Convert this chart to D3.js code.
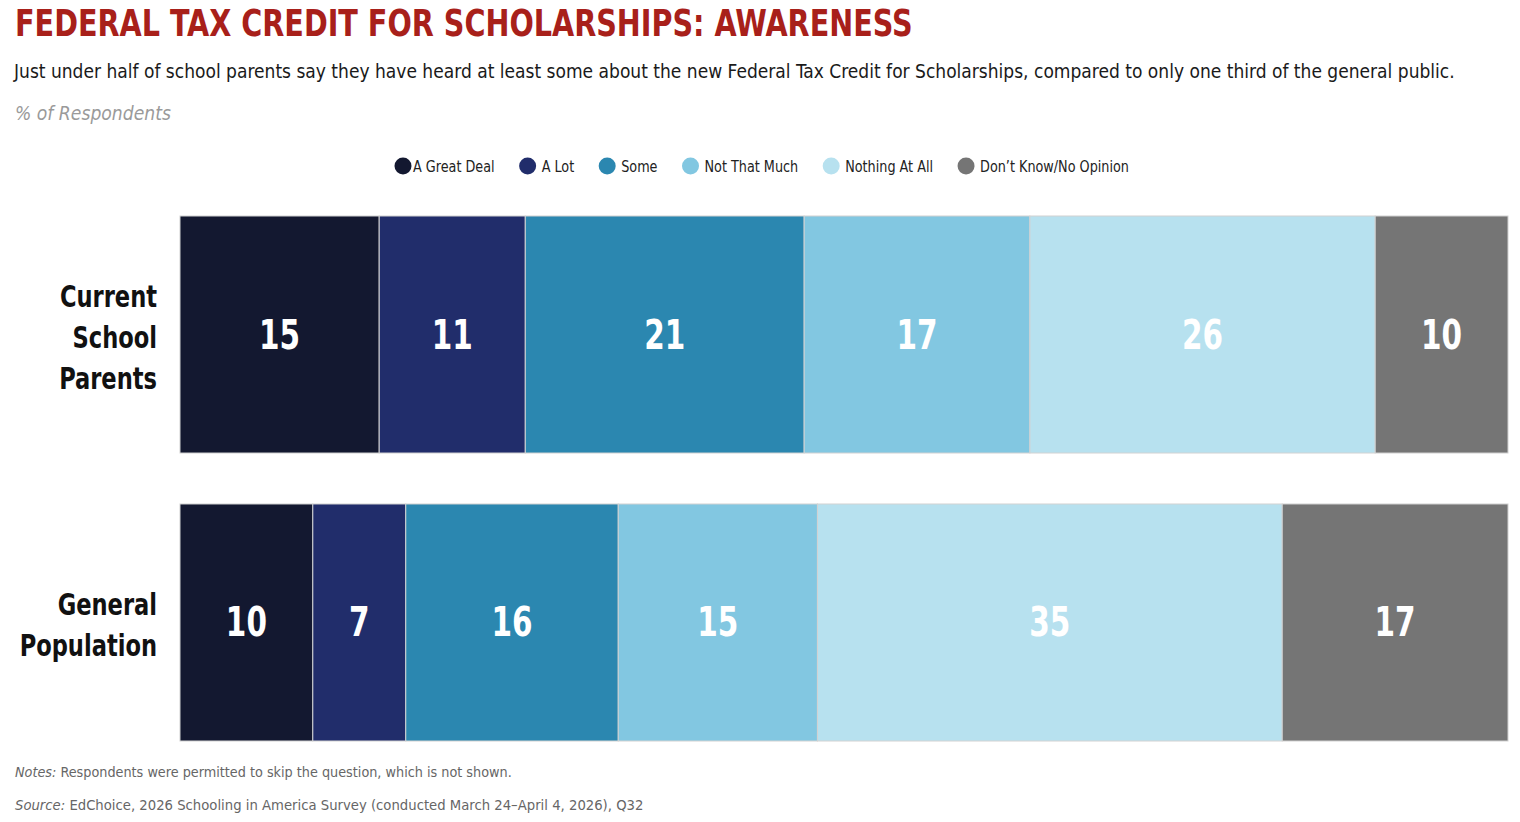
<!DOCTYPE html>
<html>

<head>
  <title>Federal Tax Credit Awareness</title>
  <script src="https://cdn.jsdelivr.net/npm/d3@7"></script>
  <style>
    body { margin: 0; background: #fff; }
    text { font-family: "Liberation Sans Narrow", "DejaVu Sans Condensed", "Roboto", sans-serif; }
  </style>
</head>

<body>
  <svg width="1520" height="822" id="mainsvg"></svg>
  <script>
    const groups = ['Current School Parents', 'General Population'];
    const groupLines = [['Current', 'School', 'Parents'], ['General', 'Population']];
    const categories = ['A Great Deal', 'A Lot', 'Some', 'Not That Much', 'Nothing At All', 'Don\u2019t Know/No Opinion'];
    const parentsValues = [15, 11, 21, 17, 26, 10];
    const publicValues = [10, 7, 16, 15, 35, 17];
    const colors = ['#131830', '#212d6b', '#2b87b0', '#82c7e1', '#b7e1ef', '#757575'];

    const svg = d3.select('#mainsvg');

    // squeeze a text horizontally so it takes the given width
    const fitText = function (sel, px, py, w) {
      const natural = sel.node().getComputedTextLength();
      const k = Math.min(1.05, w / natural);
      sel.attr('transform', `translate(${px},${py}) scale(${k},1)`);
    };

    // titles
    const title = svg.append('text')
      .attr('font-size', 38).attr('font-weight', 'bold')
      .attr('fill', '#a8201a')
      .text('FEDERAL TAX CREDIT FOR SCHOLARSHIPS: AWARENESS');
    fitText(title, 15, 36, 898);

    const subtitle = svg.append('text')
      .attr('font-size', 20).attr('fill', '#1a1a1a')
      .text('Just under half of school parents say they have heard at least some about the new Federal Tax Credit for Scholarships, compared to only one third of the general public.');
    fitText(subtitle, 14, 78, 1442);

    const unit = svg.append('text')
      .attr('font-size', 20).attr('font-style', 'italic').attr('fill', '#9a9a9a')
      .text('% of Respondents');
    fitText(unit, 15, 120, 156);

    // legend
    const legend = svg.append('g');
    let lx = 0;
    categories.forEach((c, i) => {
      const item = legend.append('g').attr('transform', `translate(${lx},0)`);
      item.append('circle').attr('cx', 0).attr('cy', 0).attr('r', 8.5).attr('fill', colors[i]);
      const off = i === 0 ? 10 : 14;
      const t = item.append('text')
        .attr('transform', `translate(${off},5.5) scale(0.95,1)`)
        .attr('font-size', 15).attr('fill', '#222')
        .text(c);
      lx += off + t.node().getComputedTextLength() * 0.95 + 33;
    });
    legend.attr('transform', `translate(403,166)`);

    // bars
    const x = d3.scaleLinear().domain([0, 100]).range([180, 1508]);
    const y = d3.scaleBand().domain(groups).range([216, 741]).paddingInner(0.177);

    const rows = [parentsValues, publicValues];
    rows.forEach((vals, gi) => {
      const stacked = [];
      let acc = 0;
      vals.forEach((v, i) => { stacked.push({ start: acc, end: acc + v, v: v, i: i }); acc += v; });
      const g = svg.append('g');
      g.selectAll('rect').data(stacked).join('rect')
        .attr('x', d => x(d.start))
        .attr('y', y(groups[gi]))
        .attr('width', d => x(d.end) - x(d.start))
        .attr('height', y.bandwidth())
        .attr('fill', d => colors[d.i])
        .attr('stroke', '#d2d2d2')
        .attr('stroke-width', 1);
      g.selectAll('text').data(stacked).join('text')
        .attr('transform', d => `translate(${(x(d.start) + x(d.end)) / 2},${y(groups[gi]) + y.bandwidth() / 2 + 14}) scale(0.82,1)`)
        .attr('text-anchor', 'middle')
        .attr('font-size', 40).attr('font-weight', 'bold')
        .attr('fill', '#fff')
        .text(d => d.v);

      const lines = groupLines[gi];
      const cy = y(groups[gi]) + y.bandwidth() / 2;
      const lh = 41;
      svg.append('g').selectAll('text').data(lines).join('text')
        .attr('transform', (d, k) => `translate(157,${cy + (k - (lines.length - 1) / 2) * lh + 13}) scale(0.81,1)`)
        .attr('text-anchor', 'end')
        .attr('font-size', 31).attr('font-weight', 'bold')
        .attr('fill', '#111')
        .text(d => d);
    });

    // footnotes
    const notes = svg.append('text')
      .attr('font-size', 14.5).attr('fill', '#666');
    notes.append('tspan').attr('font-style', 'italic').text('Notes: ');
    notes.append('tspan').text('Respondents were permitted to skip the question, which is not shown.');
    fitText(notes, 15, 777, 497);

    const source = svg.append('text')
      .attr('font-size', 14.5).attr('fill', '#666');
    source.append('tspan').attr('font-style', 'italic').text('Source: ');
    source.append('tspan').text('EdChoice, 2026 Schooling in America Survey (conducted March 24\u2013April 4, 2026), Q32');
    fitText(source, 15, 810, 629);
  </script>
</body>

</html>
